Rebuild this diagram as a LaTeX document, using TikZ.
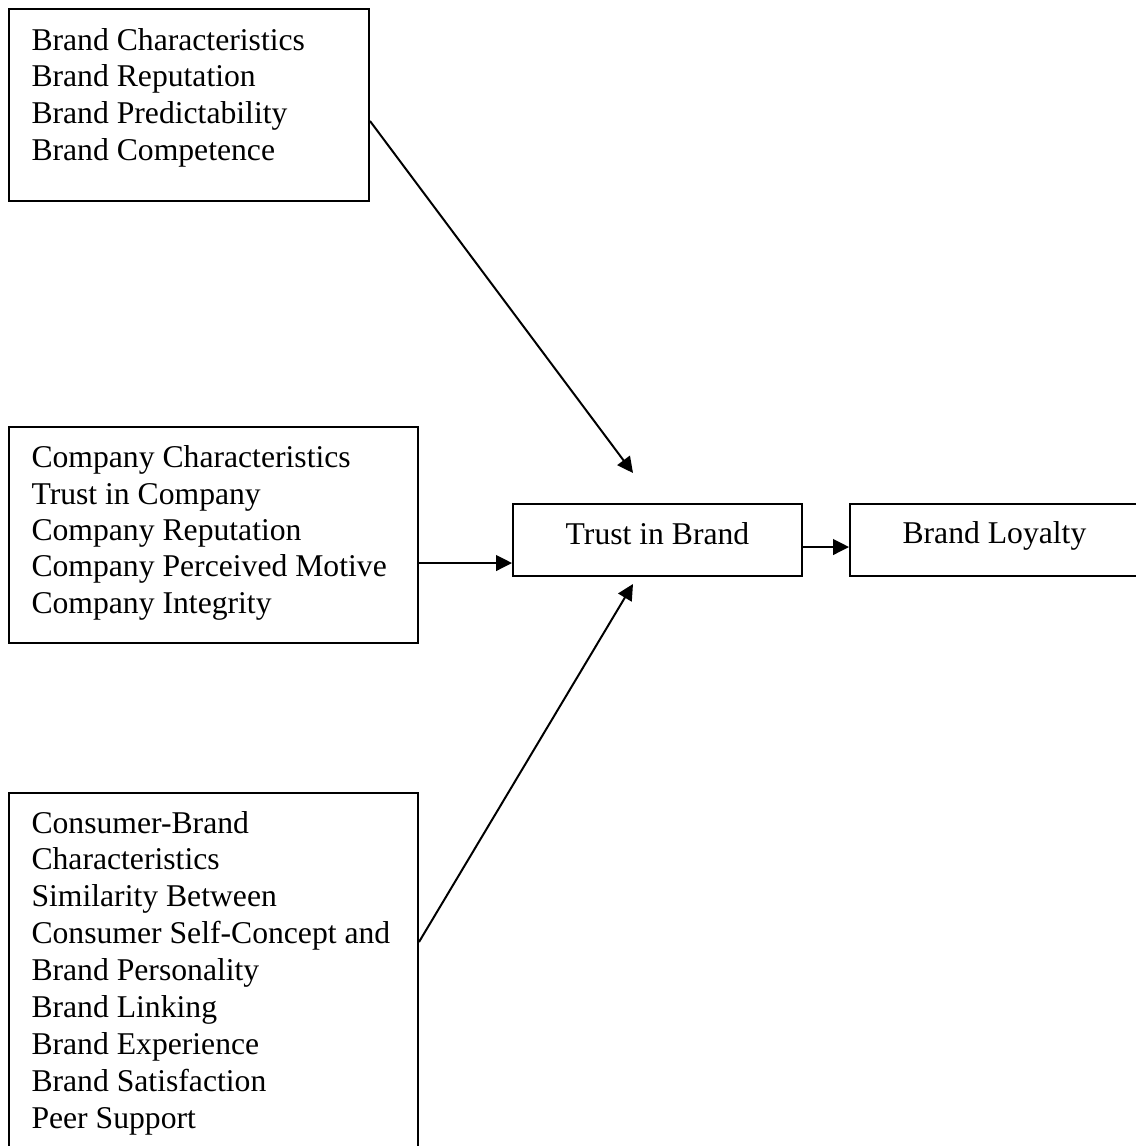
\documentclass[tikz,border=0pt]{standalone}
\usepackage{fontspec}
\setmainfont{Liberation Serif}
\usetikzlibrary{arrows.meta,fit,calc}
\begin{document}
\begin{tikzpicture}[x=0.379pt, y=-0.379pt,
  box/.style={draw, rectangle, line width=0.75pt, inner sep=0pt},
  lbl/.style={anchor=base west, inner sep=0pt, font=\fontsize{12pt}{13.9pt}\selectfont},
  link/.style={line width=0.75pt, -{Triangle[length=6pt,width=5.9pt]}}]
\useasboundingbox (0,0) rectangle (1136,1146);
\clip (0,0) rectangle (1136,1146);

% frames
\node[box, fit={(9,9) (369,201)}] (brand) {};
\node[box, fit={(9,427) (418,643)}] (company) {};
\node[box, fit={(9,793) (418,1170)}] (consumer) {};
\node[box, fit={(513,504) (802,576)}] (trust) {};
\node[box, fit={(850,504) (1160,576)}] (loyalty) {};

% factor lists
\foreach \t [count=\i from 0] in {Brand Characteristics, Brand Reputation,
    Brand Predictability, Brand Competence}
  \node[lbl] (brand-\i) at (31, 50+\i*36.7) {\t};
\foreach \t [count=\i from 0] in {Company Characteristics, Trust in Company,
    Company Reputation, Company Perceived Motive, Company Integrity}
  \node[lbl] (company-\i) at (31, 467.7+\i*36.4) {\t};
\foreach \t [count=\i from 0] in {Consumer-Brand, Characteristics,
    Similarity Between, Consumer Self-Concept and, Brand Personality,
    Brand Linking, Brand Experience, Brand Satisfaction, Peer Support}
  \node[lbl] (consumer-\i) at (31, 833+\i*36.9) {\t};

\node[lbl, anchor=base] (trust-txt) at (657.5,544) {Trust in Brand};
\node[lbl] (loyalty-txt) at (902,543) {Brand Loyalty};

% connectors
\coordinate (t1) at (633,473);
\coordinate (t3) at (633,584);
\draw[link] ($(brand.north east)+(0,113)$) -- (t1);
\draw[link] ($(company.north east)+(0,137)$) coordinate (s2) -- (s2 -| trust.west);
\draw[link] ($(consumer.north east)+(0,150)$) -- (t3);
\draw[link] ($(trust.north east)+(0,44)$) coordinate (s4) -- (s4 -| loyalty.west);
\end{tikzpicture}
\end{document}
